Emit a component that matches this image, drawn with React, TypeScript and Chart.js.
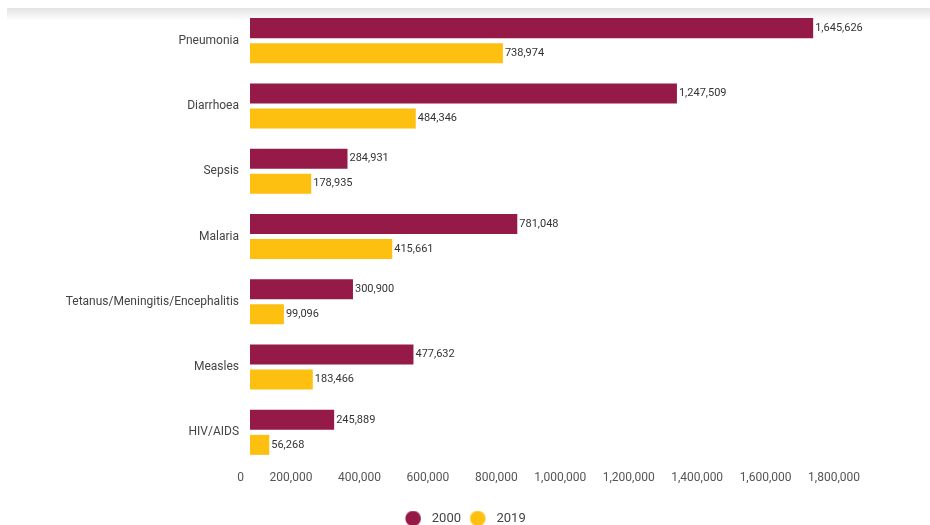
import React, { useEffect, useRef } from "react";
import { Chart, registerables } from "chart.js";

Chart.register(...registerables);

const categories = [
  "Pneumonia",
  "Diarrhoea",
  "Sepsis",
  "Malaria",
  "Tetanus/Meningitis/Encephalitis",
  "Measles",
  "HIV/AIDS",
];
const deaths2000 = [1645626, 1247509, 284931, 781048, 300900, 477632, 245889];
const deaths2019 = [738974, 484346, 178935, 415661, 99096, 183466, 56268];
const seriesLabels = ["2000", "2019"];
const seriesColors = ["#951a47", "#fdc010"];
const tickValues = [0, 200000, 400000, 600000, 800000, 1000000, 1200000, 1400000, 1600000, 1800000];
const xAxisMax = 1987000;

const fmt = (v: number) => Number(v).toLocaleString("en-US");

const valueLabels = {
  id: "valueLabels",
  afterDatasetsDraw(chart: any) {
    const ctx = chart.ctx;
    ctx.save();
    ctx.font = "11px Roboto";
    ctx.fillStyle = "#333333";
    ctx.textAlign = "left";
    ctx.textBaseline = "middle";
    chart.data.datasets.forEach((ds: any, i: number) => {
      const meta = chart.getDatasetMeta(i);
      meta.data.forEach((bar: any, j: number) => {
        ctx.fillText(fmt(ds.data[j]), bar.x + 2, bar.y);
      });
    });
    ctx.restore();
  },
};

function makeDot(color: string) {
  const c = document.createElement("canvas");
  c.width = 28;
  c.height = 16;
  const g = c.getContext("2d")!;
  g.fillStyle = color;
  g.beginPath();
  g.arc(12.3, 8, 7.8, 0, Math.PI * 2);
  g.fill();
  return c;
}

export default function App() {
  const canvasRef = useRef<HTMLCanvasElement | null>(null);

  useEffect(() => {
    if (!canvasRef.current) return;
    const dots = seriesColors.map(makeDot);
    const chart = new Chart(canvasRef.current, {
      type: "bar",
      data: {
        labels: categories,
        datasets: [
          {
            label: seriesLabels[0],
            data: deaths2000,
            backgroundColor: seriesColors[0],
            borderWidth: 0,
            barPercentage: 0.8,
            categoryPercentage: 0.767,
          },
          {
            label: seriesLabels[1],
            data: deaths2019,
            backgroundColor: seriesColors[1],
            borderWidth: 0,
            barPercentage: 0.8,
            categoryPercentage: 0.767,
          },
        ],
      },
      options: {
        indexAxis: "y",
        animation: false,
        responsive: true,
        maintainAspectRatio: false,
        layout: { padding: { top: 8, right: 0, left: 0, bottom: -10 } },
        scales: {
          x: {
            min: 0,
            max: xAxisMax,
            grid: { display: false, drawTicks: false },
            border: { display: false },
            afterBuildTicks: (scale: any) => {
              scale.ticks = tickValues.map((v) => ({ value: v }));
            },
            afterFit: (scale: any) => {
              scale.height = 39;
            },
            ticks: {
              align: "end",
              labelOffset: -6,
              padding: 6,
              color: "#555555",
              font: { family: "Roboto", size: 12 },
              callback: (v: any) => fmt(v),
            },
          },
          y: {
            grid: { display: false, drawTicks: false },
            border: { display: false },
            afterFit: (scale: any) => {
              scale.width = 250;
              scale.paddingTop = 0;
              scale.paddingBottom = 0;
            },
            ticks: {
              padding: 11,
              color: "#444444",
              font: { family: "Roboto", size: 12 },
            },
          },
        },
        plugins: {
          legend: {
            position: "bottom",
            labels: {
              usePointStyle: true,
              pointStyleWidth: 21,
              boxHeight: 11,
              padding: 8,
              color: "#444444",
              font: { family: "Roboto", size: 13 },
              generateLabels: (ch: any) => {
                const items = Chart.defaults.plugins.legend.labels.generateLabels(ch);
                items.forEach((it: any, i: number) => {
                  it.pointStyle = dots[i];
                });
                return items;
              },
            },
          },
          tooltip: { enabled: false },
        },
      },
      plugins: [valueLabels],
    });
    return () => chart.destroy();
  }, []);

  return (
    <div
      style={{
        position: "fixed",
        left: 0,
        top: 0,
        width: 930,
        height: 525,
        background: "#ffffff",
      }}
    >
      <div
        style={{
          position: "absolute",
          left: 7,
          top: 8,
          width: 923,
          height: 13,
          background: "linear-gradient(to bottom, #e3e3e3, #ffffff)",
        }}
      />
      <canvas ref={canvasRef} style={{ position: "relative" }} />
    </div>
  );
}
